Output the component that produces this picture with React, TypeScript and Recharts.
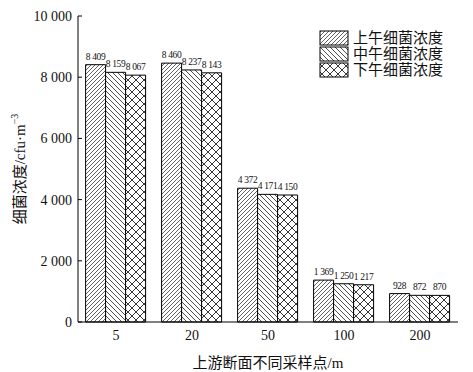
import React from 'react';
import {
  BarChart,
  Bar,
  XAxis,
  YAxis,
  LabelList,
  ReferenceArea,
} from 'recharts';

const sites = ['5', '20', '50', '100', '200'];
const morning = [8409, 8460, 4372, 1369, 928];
const noon = [8159, 8237, 4171, 1250, 872];
const afternoon = [8067, 8143, 4150, 1217, 870];
const yTicks = [0, 2000, 4000, 6000, 8000, 10000];
const seriesNames = ['上午细菌浓度', '中午细菌浓度', '下午细菌浓度'];

const data = sites.map((site, i) => ({
  site,
  morning: morning[i],
  noon: noon[i],
  afternoon: afternoon[i],
}));

const FONT = '"Times New Roman", "Liberation Serif", "Noto Sans CJK SC", serif';
const patternIds = ['hatchFwd', 'hatchBack', 'hatchCross'];

// thousands split by a space (nbsp so Recharts does not wrap the label)
const fmt = (v: number | string, sep = ' ') =>
  String(v).replace(/\B(?=(\d{3})+(?!\d))/g, sep);

const Patterns = () => (
  <svg width={0} height={0} style={{ position: 'absolute' }}>
    <defs>
      <pattern id="hatchFwd" patternUnits="userSpaceOnUse" width={4} height={4}>
        <rect width={4} height={4} fill="#fff" />
        <path d="M-1,1 L1,-1 M0,4 L4,0 M3,5 L5,3" stroke="#222" strokeWidth={0.7} />
      </pattern>
      <pattern id="hatchBack" patternUnits="userSpaceOnUse" width={5} height={5}>
        <rect width={5} height={5} fill="#fff" />
        <path d="M-1,4 L1,6 M0,0 L5,5 M4,-1 L6,1" stroke="#222" strokeWidth={0.8} />
      </pattern>
      <pattern id="hatchCross" patternUnits="userSpaceOnUse" width={8} height={8}>
        <rect width={8} height={8} fill="#fff" />
        <path d="M0,0 L8,8 M8,0 L0,8" stroke="#222" strokeWidth={0.9} />
      </pattern>
    </defs>
  </svg>
);

const YTick = (props: any) => {
  const { x, y, payload } = props;
  return (
    <g>
      <line x1={x + 6} y1={y} x2={x + 10} y2={y} stroke="#000" />
      <text x={x} y={y} dy={5} textAnchor="end" fontSize={14} fontFamily={FONT} fill="#111">
        {fmt(payload.value)}
      </text>
    </g>
  );
};

const LegendBox = () => (
  <svg width={130} height={52} style={{ position: 'absolute', left: 318, top: 30 }}>
    {seriesNames.map((name, i) => (
      <g key={name}>
        <rect
          x={2}
          y={1 + i * 16}
          width={28}
          height={14}
          fill={`url(#${patternIds[i]})`}
          stroke="#000"
        />
        <text x={35} y={13 + i * 16} fontSize={15} fontFamily={FONT} fill="#111">
          {name}
        </text>
      </g>
    ))}
  </svg>
);

const YLabel = () => (
  <text
    x={20}
    y={169}
    transform="rotate(-90 20 169)"
    textAnchor="middle"
    dominantBaseline="central"
    fontSize={15}
    fontFamily={FONT}
    fill="#111"
  >
    细菌浓度/cfu·m<tspan dy={-6} fontSize={10}>−3</tspan>
  </text>
);

const App = () => {
  const keys = ['morning', 'noon', 'afternoon'];
  return (
    <div style={{ position: 'absolute', left: 0, top: 0, background: '#fff' }}>
      <Patterns />
      <BarChart
        width={473}
        height={372}
        data={data}
        margin={{ top: 16, right: 15, bottom: 0, left: 18 }}
        barCategoryGap="10%"
        barGap={0}
      >
        <XAxis
          dataKey="site"
          height={50}
          tickLine={false}
          tickSize={6}
          tickMargin={2}
          axisLine={{ stroke: '#000' }}
          tick={{ fontSize: 14, fontFamily: FONT, fill: '#111' }}
          label={{
            value: '上游断面不同采样点/m',
            position: 'insideBottom',
            offset: 4,
            fontSize: 15,
            fontFamily: FONT,
            fill: '#111',
          }}
        />
        <YAxis
          width={60}
          domain={[0, 10000]}
          ticks={yTicks}
          tickLine={false}
          tickSize={0}
          tickMargin={6}
          axisLine={{ stroke: '#000' }}
          tick={<YTick />}
          label={<YLabel />}
        />
        <ReferenceArea fill="none" fillOpacity={0} stroke="#000" strokeWidth={1} ifOverflow="visible" />
        {keys.map((k, i) => (
          <Bar
            key={k}
            dataKey={k}
            name={seriesNames[i]}
            fill={`url(#${patternIds[i]})`}
            stroke="#000"
            strokeWidth={1}
            isAnimationActive={false}
          >
            <LabelList
              dataKey={k}
              position="top"
              offset={5}
              formatter={((v: number) => fmt(v, '\u00A0')) as any}
              style={{ fontSize: 9.5, letterSpacing: -0.3, fontFamily: FONT, fill: '#111' }}
            />
          </Bar>
        ))}
      </BarChart>
      <LegendBox />
    </div>
  );
};

export default App;
